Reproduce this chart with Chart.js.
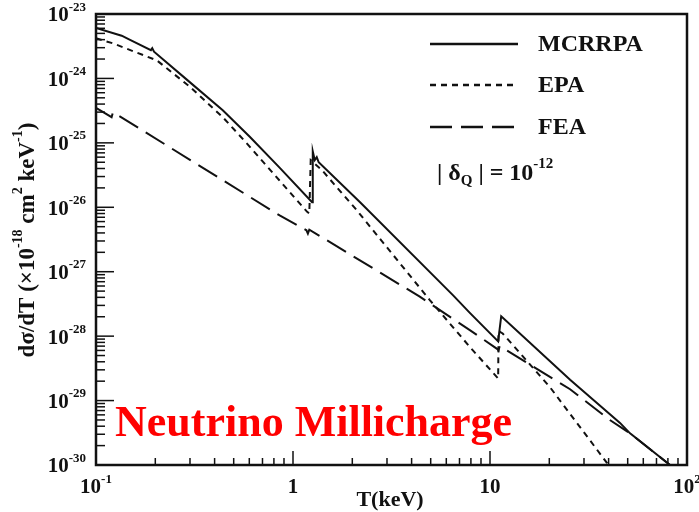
<!DOCTYPE html>
<html>
<head>
<meta charset="utf-8">
<script src="https://cdn.jsdelivr.net/npm/chart.js@4.4.0/dist/chart.umd.min.js"></script>
<style>
  body { margin: 0; background: #fff; }
  #wrap { width: 699px; height: 512px; }
</style>
</head>
<body>
<div id="wrap"><canvas id="myChart" width="699" height="512"></canvas></div>
<script>
// values: T in keV, dsigma/dT in 1e-18 cm^2 keV^-1
const mcrrpaT = [0.1, 0.135, 0.148, 0.19, 0.193, 0.197, 0.29, 0.44, 0.605, 0.85, 1.25, 1.26, 1.29, 1.32, 1.35, 2.19, 6.5, 7.9, 11.0, 11.4, 25.5, 45.7, 51.4, 82];
const mcrrpaS = [6.1e-24, 4.6e-24, 4.0e-24, 2.75e-24, 2.95e-24, 2.6e-24, 9.5e-25, 3.2e-25, 1.23e-25, 4.2e-26, 1.2e-26, 7.4e-26, 5.4e-26, 6.0e-26, 5.0e-26, 1.2e-26, 4.3e-28, 2.3e-28, 8.3e-29, 2.04e-28, 2.1e-29, 4.5e-30, 3.1e-30, 1.0e-30];

const epaT = [0.1, 0.122, 0.204, 0.3, 0.44, 0.58, 0.85, 1.18, 1.21, 1.23, 1.4, 2.1, 4.96, 7.9, 11.0, 11.05, 11.6, 20.2, 39.3, 41];
const epaS = [4.2e-24, 3.5e-24, 1.9e-24, 7.4e-25, 2.5e-25, 1.0e-25, 2.65e-26, 8.5e-27, 8.0e-27, 5.4e-26, 3.8e-26, 9.1e-27, 3.6e-28, 6.8e-29, 2.2e-29, 1.2e-28, 1.1e-28, 1.6e-29, 1.07e-30, 8e-31];

const feaT = [0.1, 0.12, 0.122, 0.86, 1.17, 1.19, 1.21, 4.4, 7.9, 10.9, 11.05, 11.2, 25.5, 40.6, 51.4, 82];
const feaS = [3.5e-25, 2.5e-25, 3.0e-25, 7.4e-27, 4.4e-27, 3.9e-27, 4.5e-27, 4.1e-28, 1.24e-28, 6.3e-29, 6.0e-29, 7.0e-29, 1.5e-29, 5.0e-30, 3.1e-30, 1.0e-30];

const seriesNames = ["MCRRPA", "EPA", "FEA"];
const xTickVals = [0.1, 1, 10, 100];
const xTickLabels = ["10^-1", "1", "10", "10^2"];
const yTickExps = [-30, -29, -28, -27, -26, -25, -24, -23];

const serif = '"Liberation Serif", "Times New Roman", serif';

function toPoints(xs, ys) {
  return xs.map((x, i) => ({ x: x, y: ys[i] }));
}

// draws text pieces, mode 1 = superscript, -1 = subscript
function drawRich(ctx, parts, x, y, size, align) {
  const fontOf = (m) => `bold ${m ? Math.round(size * 0.62) : size}px ${serif}`;
  const widths = parts.map(([t, m]) => {
    ctx.font = fontOf(m);
    return ctx.measureText(t).width;
  });
  const total = widths.reduce((a, b) => a + b, 0);
  let cx = align === "right" ? x - total : align === "center" ? x - total / 2 : x;
  ctx.textAlign = "left";
  ctx.textBaseline = "middle";
  parts.forEach(([t, m], i) => {
    ctx.font = fontOf(m);
    const dy = m === 1 ? -size * 0.42 : m === -1 ? size * 0.3 : 0;
    ctx.fillText(t, cx, y + dy);
    cx += widths[i];
  });
}

function labelParts(str) {
  const [base, exp] = str.split("^");
  return exp ? [[base, 0], [exp, 1]] : [[base, 0]];
}

const decorations = {
  id: "decorations",
  afterDatasetsDraw(chart) {
    const ctx = chart.ctx;
    const area = chart.chartArea;
    const xs = chart.scales.x;
    const ys = chart.scales.y;
    ctx.save();
    ctx.fillStyle = "#111";
    ctx.strokeStyle = "#111";

    // y ticks (inward, left side)
    ctx.lineWidth = 1.5;
    yTickExps.forEach((e) => {
      const py = ys.getPixelForValue(Math.pow(10, e));
      ctx.beginPath();
      ctx.moveTo(area.left, py);
      ctx.lineTo(area.left + 18, py);
      ctx.stroke();
      if (e < -23) {
        for (let k = 2; k <= 9; k++) {
          const my = ys.getPixelForValue(k * Math.pow(10, e));
          ctx.beginPath();
          ctx.moveTo(area.left, my);
          ctx.lineTo(area.left + 9, my);
          ctx.stroke();
        }
      }
      drawRich(ctx, [["10", 0], [String(e), 1]], 86, py + 2, 21, "right");
    });

    // x ticks (inward, bottom side)
    xTickVals.forEach((v, i) => {
      const px = xs.getPixelForValue(v);
      ctx.beginPath();
      ctx.moveTo(px, area.bottom);
      ctx.lineTo(px, area.bottom - 14);
      ctx.stroke();
      if (v < 100) {
        for (let k = 2; k <= 9; k++) {
          const mx = xs.getPixelForValue(k * v);
          ctx.beginPath();
          ctx.moveTo(mx, area.bottom);
          ctx.lineTo(mx, area.bottom - 7);
          ctx.stroke();
        }
      }
      drawRich(ctx, labelParts(xTickLabels[i]), px, 488, 21, "center");
    });

    // frame
    ctx.lineWidth = 2.5;
    ctx.strokeRect(area.left, area.top, area.right - area.left, area.bottom - area.top);

    // axis titles
    drawRich(ctx, [["T(keV)", 0]], 390, 500, 22, "center");
    ctx.save();
    ctx.translate(28, 240);
    ctx.rotate(-Math.PI / 2);
    drawRich(ctx, [["d\u03c3/dT (\u00d710", 0], ["-18", 1], [" cm", 0], ["2", 1], [" keV", 0], ["-1", 1], [")", 0]], 0, 0, 23, "center");
    ctx.restore();

    // legend
    const legY = [44, 85, 127];
    chart.data.datasets.forEach((ds, i) => {
      ctx.save();
      ctx.lineWidth = 2.5;
      ctx.setLineDash(ds.borderDash || []);
      ctx.beginPath();
      ctx.moveTo(430, legY[i]);
      ctx.lineTo(518, legY[i]);
      ctx.stroke();
      ctx.restore();
      drawRich(ctx, [[ds.label, 0]], 538, legY[i] + 1, 24, "left");
    });
    drawRich(ctx, [["| \u03b4", 0], ["Q", -1], [" | = 10", 0], ["-12", 1]], 437, 174, 24, "left");

    // red caption
    ctx.fillStyle = "#f00";
    drawRich(ctx, [["Neutrino Millicharge", 0]], 115, 425, 44, "left");
    ctx.restore();
  }
};

const ctx = document.getElementById("myChart");

new Chart(ctx, {
  type: "line",
  data: {
    datasets: [
      {
        label: seriesNames[0],
        data: toPoints(mcrrpaT, mcrrpaS),
        borderColor: "#111",
        borderWidth: 2,
        borderDash: [],
      },
      {
        label: seriesNames[1],
        data: toPoints(epaT, epaS),
        borderColor: "#111",
        borderWidth: 2,
        borderDash: [6, 5],
      },
      {
        label: seriesNames[2],
        data: toPoints(feaT, feaS),
        borderColor: "#111",
        borderWidth: 2,
        borderDash: [22, 9],
      },
    ],
  },
  options: {
    responsive: false,
    animation: false,
    devicePixelRatio: 1,
    layout: { padding: { left: 96, top: 14, right: 12, bottom: 47 } },
    elements: { point: { radius: 0 }, line: { tension: 0 } },
    plugins: { legend: { display: false }, tooltip: { enabled: false } },
    scales: {
      x: { type: "logarithmic", min: 0.1, max: 100, display: false },
      y: { type: "logarithmic", min: 1e-30, max: 1e-23, display: false },
    },
  },
  plugins: [decorations],
});
</script>
</body>
</html>
